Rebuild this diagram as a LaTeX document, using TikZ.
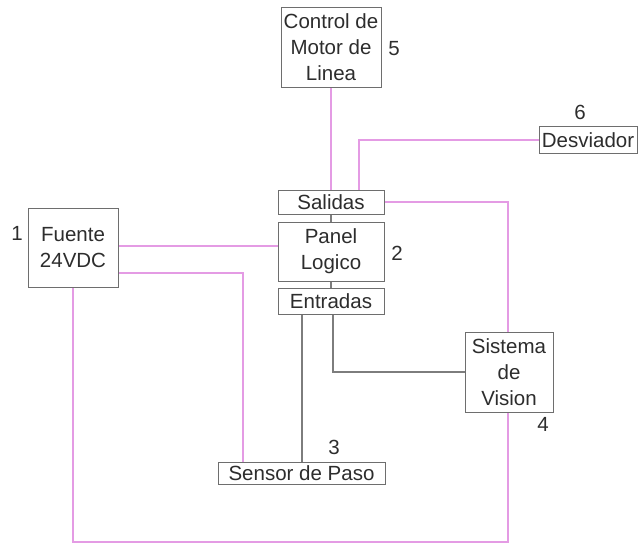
\documentclass[tikz,border=0pt]{standalone}
\usepackage{fontspec}
\setmainfont{Liberation Sans}
\usetikzlibrary{backgrounds}
\definecolor{wirepink}{RGB}{228,155,228}
\definecolor{wiregray}{RGB}{125,125,125}
\definecolor{boxgray}{RGB}{110,110,110}
\definecolor{txt}{RGB}{45,45,45}
\tikzset{
  blk/.style={draw=boxgray, line width=1pt, fill=white, inner sep=0pt, align=center,
    text=txt, font=\fontsize{20.5}{26}\selectfont},
  num/.style={inner sep=0pt, text=txt, font=\fontsize{20.5}{26}\selectfont},
  pw/.style={draw=wirepink, line width=1.6pt},
  gw/.style={draw=wiregray, line width=1.1pt},
}
\begin{document}
\begin{tikzpicture}[x=1pt,y=-1pt]
\useasboundingbox (0,0) rectangle (640,544);
% blocks
\node[blk, minimum width=100pt, minimum height=80pt] (ctrl) at (331,47) {Control de\\Motor de\\Linea};
\node[blk, minimum width=98pt, minimum height=27pt] (desv) at (588,140) {Desviador};
\node[blk, minimum width=106pt, minimum height=24pt] (sal) at (331,202) {Salidas};
\node[blk, minimum width=106pt, minimum height=59pt] (panel) at (331,251.5) {Panel\\Logico};
\node[blk, minimum width=106pt, minimum height=26pt] (ent) at (331,301) {Entradas};
\node[blk, minimum width=90pt, minimum height=79pt] (fuente) at (73,247.5) {Fuente\\24VDC};
\node[blk, minimum width=167pt, minimum height=22pt] (sensor) at (301.5,473) {Sensor de Paso};
\node[blk, minimum width=88pt, minimum height=80pt] (vision) at (509,372) {Sistema\\de\\Vision};
% numbers
\node[num] (n1) at (17,233) {1};
\node[num] (n2) at (397,253) {2};
\node[num] (n3) at (334,447) {3};
\node[num] (n4) at (543,424) {4};
\node[num] (n5) at (394,49) {5};
\node[num] (n6) at (580,112) {6};
\coordinate (br) at (508,542);
\begin{scope}[on background layer]
% pink wires
\draw[pw] (ctrl.south) -- (sal.north);
\draw[pw] ([xshift=28pt]sal.north) |- (desv.west);
\draw[pw] ([yshift=1.5pt]fuente.east) -- ([yshift=1.5pt]fuente.east -| panel.west);
\draw[pw] ([yshift=-25.5pt]fuente.east) -| ([xshift=-58.5pt]sensor.north);
\draw[pw] (fuente.south) |- (br) |- (sal.east);
% gray wires
\draw[gw] (sal.south) -- (panel.north);
\draw[gw] (panel.south) -- (ent.north);
\draw[gw] ([xshift=-29pt]ent.south) -- ([xshift=-29pt]ent.south |- sensor.north);
\draw[gw] ([xshift=2pt]ent.south) |- (vision.west);
\end{scope}
\end{tikzpicture}
\end{document}
